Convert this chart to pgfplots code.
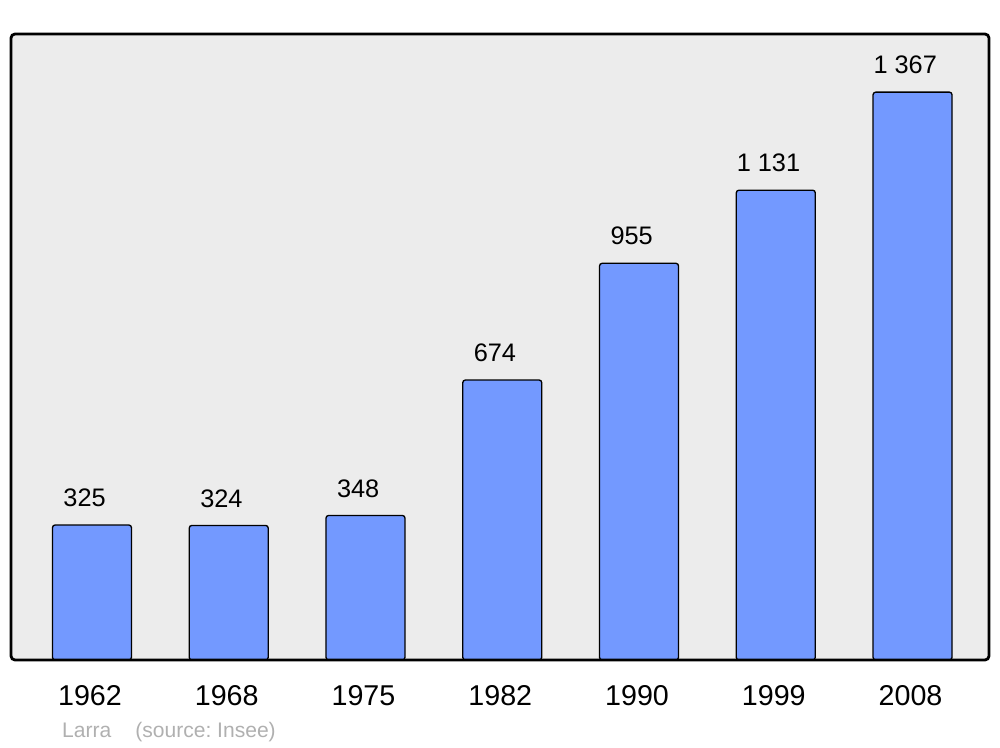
\documentclass[border=0pt]{standalone}
\usepackage{fontspec}
\setmainfont{Liberation Sans}
\usepackage{pgfplots}
\pgfplotsset{compat=1.18}
\definecolor{bg}{HTML}{ECECEC}
\definecolor{barblue}{HTML}{7399FF}
\definecolor{capgray}{HTML}{B0B0B0}
\begin{document}
\begin{tikzpicture}
\begin{axis}[
  scale only axis,
  width=733.5pt, height=469.5pt,
  xmin=-0.592, xmax=6.559,
  ymin=0, ymax=1507,
  clip=false,
  axis line style={draw=none},
  axis background/.style={fill=bg},
  ytick=\empty,
  xtick=data,
  xticklabels={1962,1968,1975,1982,1990,1999,2008},
  major tick length=0pt,
  xticklabel style={font=\fontsize{21.5}{25}\selectfont, anchor=base, yshift=-33.75pt, xshift=-1.5pt},
  ybar, bar width=59.25pt, bar shift=0pt,
  point meta=explicit symbolic,
  nodes near coords,
  every node near coord/.append style={font=\fontsize{19}{23}\selectfont, anchor=base, yshift=13.8pt, xshift=-5.5pt, black},
]
\addplot[fill=barblue, draw=black, line width=1pt, rounded corners=2pt]
  coordinates {(0,325) [325] (1,324) [324] (2,348) [348] (3,674) [674]
               (4,955) [955] (5,1131) [{1 131}] (6,1367) [{1 367}]};
\draw[line width=2.1pt, rounded corners=3pt] (rel axis cs:0,0) rectangle (rel axis cs:1,1);
\node[anchor=base west, text=capgray, font=\fontsize{15.8}{18}\selectfont, inner sep=0pt] at (rel axis cs:0.0521,-0.123) {Larra};
\node[anchor=base west, text=capgray, font=\fontsize{15.8}{18}\selectfont, inner sep=0pt] at (rel axis cs:0.1268,-0.123) {(source:~Insee)};
\path (rel axis cs:-0.01125,-0.139) rectangle (rel axis cs:1.01125,1.0543);
\end{axis}
\end{tikzpicture}
\end{document}
